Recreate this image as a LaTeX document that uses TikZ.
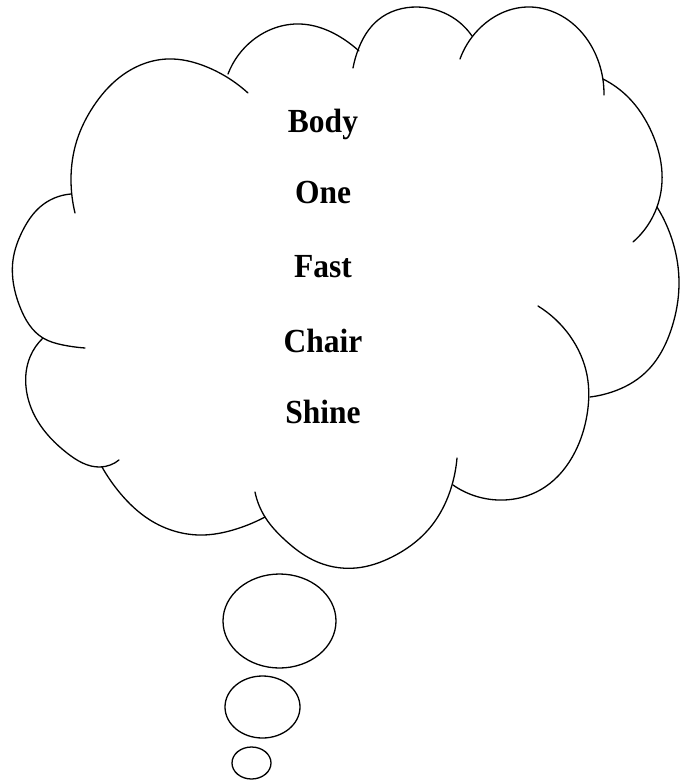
\documentclass[tikz,border=0pt]{standalone}
\usepackage{fontspec}
\setmainfont{Liberation Serif}
\usetikzlibrary{shapes.geometric,hobby}
\begin{document}
\begin{tikzpicture}[x=1pt,y=-1pt,
  bulge/.style={line width=1.3pt, line cap=round, use Hobby shortcut},
  bubble/.style={draw, line width=1.3pt, ellipse, inner sep=0pt},
  word/.style={anchor=base, font=\fontsize{31.5}{38}\selectfont\bfseries, inner sep=0pt}]
\useasboundingbox (0,0) rectangle (691,780);
% cloud bulges
\draw[bulge] (75,213) .. (71,180) .. (77,140) .. (93,107) .. (120,77) .. (167,59) .. (207,67) .. (248,93);
\draw[bulge] (228,74) .. (253,40) .. (300,24) .. (345,40) .. (359,51);
\draw[bulge] (353,68) .. (358,50) .. (378,20) .. (417,7) .. (452,17) .. (472,36);
\draw[bulge] (460,59) .. (478,30) .. (527,7) .. (572,23) .. (595,53) .. (603,80) .. (604,95);
\draw[bulge] (603,79) .. (628,97) .. (652,133) .. (662,173) .. (657,207) .. (633,242);
\draw[bulge] (657,207) .. (675,250) .. (679,285) .. (672,327) .. (645,373) .. (612,392) .. (590,397);
\draw[bulge] (538,306) .. (570,336) .. (587,375) .. (587,415) .. (575,452) .. (545,487) .. (498,500) .. (453,485);
\draw[bulge] (457,458) .. (452,485) .. (428,530) .. (392,557) .. (356,568) .. (313,560) .. (285,540) .. (265,517) .. (255,492);
\draw[bulge] (265,517) .. (233,530) .. (203,535) .. (150,520) .. (120,493) .. (102,467);
\draw[bulge] (119,460) .. (100,467) .. (67,453) .. (37,420) .. (26,387) .. (30,357) .. (43,338);
\draw[bulge] (71,194) .. (40,207) .. (23,230) .. (13,260) .. (20,307) .. (43,338) .. (63,345) .. (85,348);
% thought bubbles
\node[bubble, minimum width=113pt, minimum height=94pt] (b1) at (279.5,621) {};
\node[bubble, minimum width=75pt, minimum height=62pt] (b2) at (262.5,707) {};
\node[bubble, minimum width=39pt, minimum height=32pt] (b3) at (251.5,763) {};
% words
\node[word] (w1) at (323,132) {\scalebox{1}[1.07]{Body}};
\node[word] (w2) at (323,203) {\scalebox{1}[1.07]{One}};
\node[word] (w3) at (323,277) {\scalebox{1}[1.07]{Fast}};
\node[word] (w4) at (323,352) {\scalebox{1}[1.07]{Chair}};
\node[word] (w5) at (323,423) {\scalebox{1}[1.07]{Shine}};
\end{tikzpicture}
\end{document}
